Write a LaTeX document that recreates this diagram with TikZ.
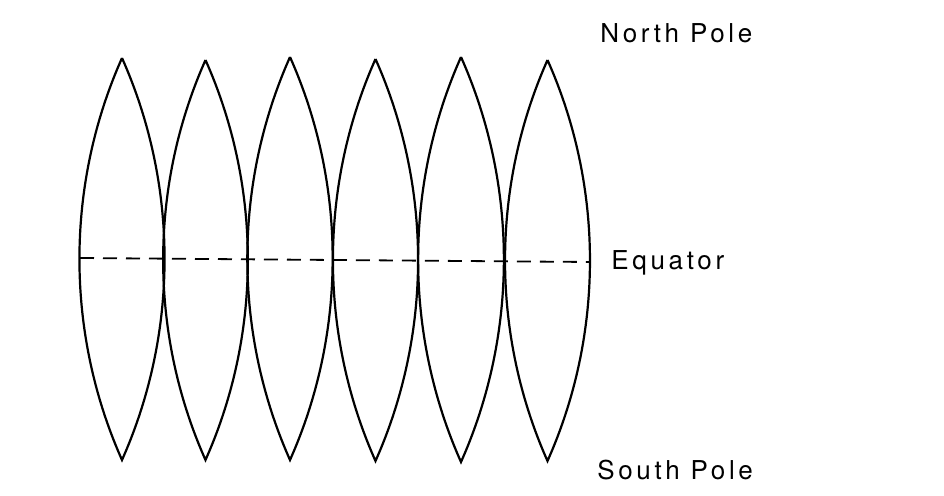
\documentclass[tikz,border=0pt]{standalone}
\usepackage{fontspec}
\newfontfamily\polefont[LetterSpace=14]{TeX Gyre Heros}
\usetikzlibrary{positioning}
\tikzset{
  gore/.style={draw,line width=1.1pt,bend right=24,looseness=0.89},
  equator/.style={draw,line width=0.9pt,dash pattern=on 7pt off 4.5pt},
  polelabel/.style={anchor=base west,inner sep=0pt,font=\polefont\fontsize{13}{15}\selectfont}
}
\begin{document}
\begin{tikzpicture}[x=0.5pt,y=-0.5pt]
        \useasboundingbox (0,0) rectangle (944,496);
        % gores: name / centre / north tip / south tip
        \foreach \g/\c/\n/\s in {1/122/58/460,2/205.5/60/460,3/290/57/460,
                                 4/375.5/59/461,5/461/57/462,6/547.5/60/461}{
          \coordinate (n\g) at (\c,\n);
          \coordinate (s\g) at (\c,\s);
          \path[gore] (n\g) to (s\g) to (n\g);
        }
        \coordinate (eqW) at (80,258);
        \coordinate (eqE) at (590,262);
        \path[equator] (eqW) -- (eqE);
        \node[polelabel] (north) at (600,43) {North Pole};
        \node[polelabel] (equ) at (611,270) {Equator};
        \node[polelabel] (south) at (597,480) {South Pole};
      \end{tikzpicture}
\end{document}
